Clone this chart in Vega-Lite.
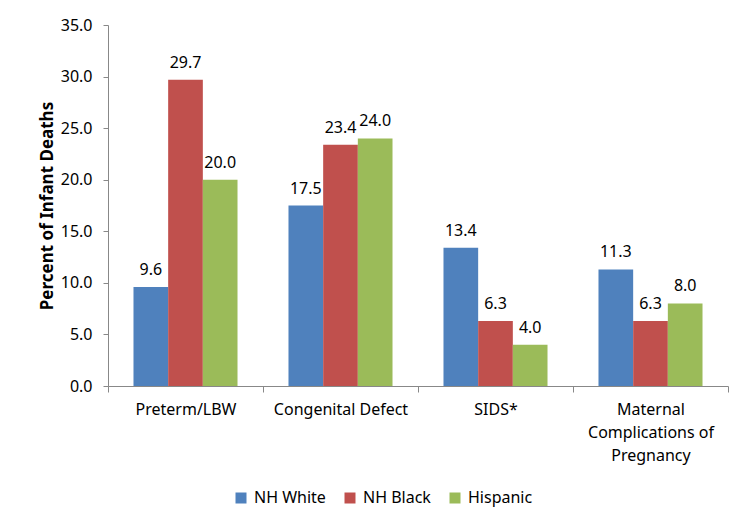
{
  "$schema": "https://vega.github.io/schema/vega-lite/v6.json",
  "width": 620,
  "height": 361,
  "autosize": {"type": "none"},
  "padding": {"left": 108, "top": 25, "right": 12, "bottom": 139},
  "background": "white",
  "config": {
    "view": {"stroke": null},
    "font": "Noto Sans",
    "axis": {"labelFont": "Noto Sans", "titleFont": "Noto Sans", "labelColor": "#000", "titleColor": "#000", "domainColor": "#888", "tickColor": "#888"},
    "legend": {"labelFont": "Noto Sans"}
  },
  "data": {
    "values": [
      {"cause": "Preterm/LBW", "group": "NH White", "pct": 9.6},
      {"cause": "Preterm/LBW", "group": "NH Black", "pct": 29.7},
      {"cause": "Preterm/LBW", "group": "Hispanic", "pct": 20.0},
      {"cause": "Congenital Defect", "group": "NH White", "pct": 17.5},
      {"cause": "Congenital Defect", "group": "NH Black", "pct": 23.4},
      {"cause": "Congenital Defect", "group": "Hispanic", "pct": 24.0},
      {"cause": "SIDS*", "group": "NH White", "pct": 13.4},
      {"cause": "SIDS*", "group": "NH Black", "pct": 6.3},
      {"cause": "SIDS*", "group": "Hispanic", "pct": 4.0},
      {"cause": "Maternal Complications of Pregnancy", "group": "NH White", "pct": 11.3},
      {"cause": "Maternal Complications of Pregnancy", "group": "NH Black", "pct": 6.3},
      {"cause": "Maternal Complications of Pregnancy", "group": "Hispanic", "pct": 8.0}
    ]
  },
  "encoding": {
    "x": {
      "field": "cause", "type": "nominal",
      "sort": ["Preterm/LBW", "Congenital Defect", "SIDS*", "Maternal Complications of Pregnancy"],
      "scale": {"paddingInner": 0, "paddingOuter": 0},
      "axis": {
        "title": null, "labelAngle": 0, "tickBand": "extent", "tickSize": 6,
        "labelFontSize": 16, "labelPadding": 9, "labelLineHeight": 23,
        "labelExpr": "datum.label == 'Maternal Complications of Pregnancy' ? ['Maternal', 'Complications of', 'Pregnancy'] : datum.label"
      }
    },
    "xOffset": {
      "field": "group", "type": "nominal",
      "sort": ["NH White", "NH Black", "Hispanic"],
      "scale": {"paddingInner": 0, "paddingOuter": 0.735}
    },
    "y": {
      "field": "pct", "type": "quantitative",
      "scale": {"domain": [0, 35], "nice": false},
      "axis": {
        "title": "Percent of Infant Deaths", "titleFontSize": 17, "titleFontWeight": "bold",
        "format": ".1f", "values": [0, 5, 10, 15, 20, 25, 30, 35], "grid": false,
        "tickSize": 5, "labelFontSize": 16, "labelPadding": 11, "titlePadding": 4
      }
    }
  },
  "layer": [
    {
      "mark": {"type": "bar"},
      "encoding": {
        "color": {
          "field": "group", "type": "nominal",
          "sort": ["NH White", "NH Black", "Hispanic"],
          "scale": {"domain": ["NH White", "NH Black", "Hispanic"], "range": ["#4F81BD", "#C0504D", "#9BBB59"]},
          "legend": {
            "title": null, "orient": "none", "direction": "horizontal",
            "legendX": 125, "legendY": 465, "symbolType": "square", "symbolSize": 121,
            "symbolStrokeWidth": 0, "labelFontSize": 16, "columnPadding": 16, "labelOffset": 5
          }
        }
      }
    },
    {
      "mark": {"type": "text", "dy": -17, "fontSize": 16, "color": "#000"},
      "encoding": {
        "text": {"field": "pct", "type": "quantitative", "format": ".1f"}
      }
    }
  ]
}
